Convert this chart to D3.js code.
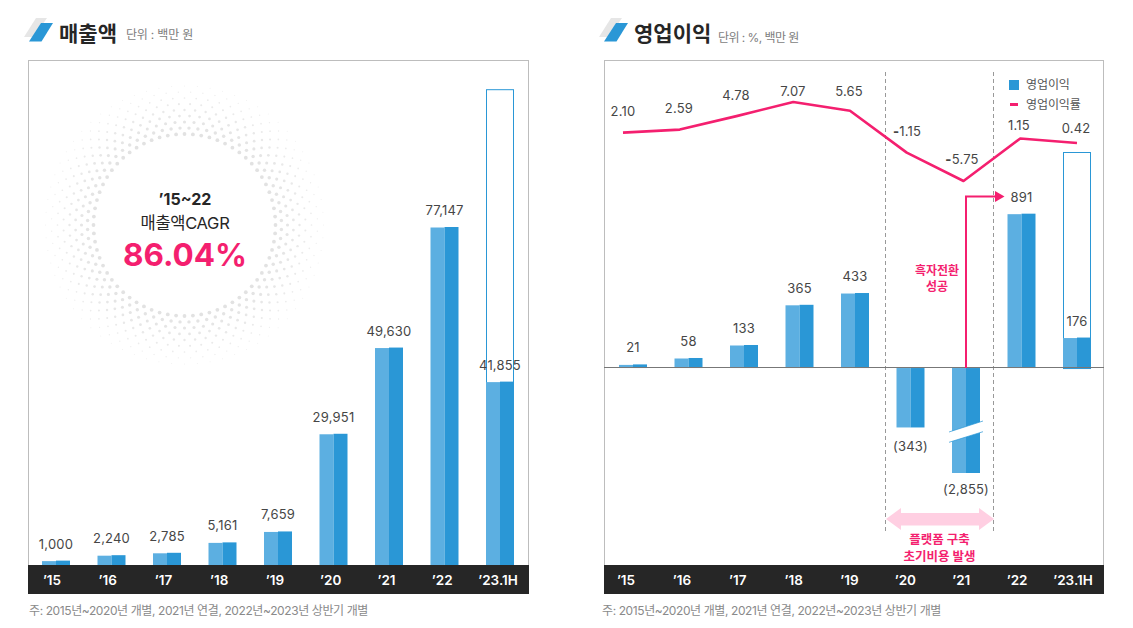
<!DOCTYPE html>
<html><head><meta charset="utf-8">
<script src="https://cdnjs.cloudflare.com/ajax/libs/d3/7.8.5/d3.min.js"></script>
<style>
html,body{margin:0;padding:0;background:#fff;overflow:hidden}
text{font-family:Inter,"Noto Sans CJK KR",sans-serif}
</style></head><body>
<svg id="c" width="1133" height="628"></svg>
<script>
const years=["’15","’16","’17","’18","’19","’20","’21","’22","’23.1H"];
const revenue=[1000,2240,2785,5161,7659,29951,49630,77147,41855];
const revenueLabels=["1,000","2,240","2,785","5,161","7,659","29,951","49,630","77,147","41,855"];
const revenueTarget=108600;
const profit=[21,58,133,365,433,-343,-2855,891,176];
const profitLabels=["21","58","133","365","433","(343)","(2,855)","891","176"];
const profitTarget=1247;
const margin=[2.10,2.59,4.78,7.07,5.65,-1.15,-5.75,1.15,0.42];
const marginLabels=["2.10","2.59","4.78","7.07","5.65","-1.15","-5.75","1.15","0.42"];

const svg=d3.select("#c");
const BLUE="#2a97d6",LIGHT="#5cafe1",PINK="#f41f6f",DARK="#262626",TXT="#464646";
const barW=28;

function header(x,title,tx,unit,ux,uy,ls){
  const g=svg.append("g");
  g.append("path").attr("d",`M${x+1} 37L${x+13} 18H${x+24}L${x+11} 37Z`).attr("fill","#e6e6e6");
  g.append("path").attr("d",`M${x+6} 41.5L${x+18} 23H${x+30}L${x+18.5} 41.5Z`).attr("fill",BLUE);
  g.append("text").attr("x",tx).attr("y",41).attr("font-size",21).attr("font-weight",700).attr("fill",DARK).text(title);
  g.append("text").attr("x",ux).attr("y",uy).attr("font-size",12).attr("letter-spacing",ls).attr("fill","#7d7d7d").text(unit);
}
function frame(x0,x1,xs,labels){
  svg.append("rect").attr("x",x0+.5).attr("y",60.5).attr("width",x1-x0-1).attr("height",505).attr("fill","none").attr("stroke","#bdbdbd");
  svg.append("rect").attr("x",x0).attr("y",565).attr("width",x1-x0).attr("height",29).attr("fill",DARK);
  labels.forEach((d,i)=>svg.append("text").attr("x",xs(i)).attr("y",585).attr("text-anchor","middle")
    .attr("font-size",13.5).attr("font-weight",600).attr("fill","#fff").text(d));
}
function bar(g,cx,y0,y1){
  const top=Math.min(y0,y1),h=Math.abs(y1-y0),o=y1<y0?.5:0;
  g.append("rect").attr("x",cx-barW/2).attr("y",top+o).attr("width",barW/2).attr("height",h-o).attr("fill",LIGHT);
  g.append("rect").attr("x",cx).attr("y",top).attr("width",barW/2).attr("height",h).attr("fill",BLUE);
}
function note(x){
  svg.append("text").attr("x",x).attr("y",615).attr("font-size",12).attr("letter-spacing",-0.4).attr("fill","#8a8a8a")
   .text("주: 2015년~2020년 개별, 2021년 연결, 2022년~2023년 상반기 개별");
}
/* ---------- left panel ---------- */
header(23,"매출액",59,"단위 : 백만 원",126,39,-0.2);
const halo=svg.append("g");
const hx=184.5,hy=225;
const rings=d3.range(0,9),N=68;
rings.forEach(k=>{
  const r=91+k*6,t=k/8;
  d3.range(N).forEach(i=>{
    const a=(i+(k%2?.5:0))/N*2*Math.PI;
    halo.append("circle").attr("cx",hx+r*Math.cos(a)).attr("cy",hy+r*Math.sin(a))
      .attr("r",1.9-1.4*t).attr("fill",d3.interpolateRgb("#e2e2e2","#efefef")(t));
  });
});
frame(28,529,d3.scaleLinear().domain([0,8]).range([52,498]),years);
const xL=d3.scaleLinear().domain([0,8]).range([56,500]);
const yL=d3.scaleLinear().domain([0,77147]).range([565,227]);
svg.append("rect").attr("x",xL(8)-13.5).attr("y",yL(revenueTarget)+.5).attr("width",27).attr("height",yL(0)-yL(revenueTarget)-1)
  .attr("fill","none").attr("stroke",BLUE);
const gL=svg.append("g");
revenue.forEach((v,i)=>bar(gL,xL(i),yL(0),yL(v)));
revenueLabels.forEach((d,i)=>svg.append("text").attr("x",xL(i)).attr("y",yL(revenue[i])-12).attr("text-anchor","middle")
  .attr("font-size",13).attr("letter-spacing",.2).attr("fill",TXT).text(d));
svg.append("text").attr("x",185).attr("y",205).attr("text-anchor","middle").attr("font-size",16).attr("font-weight",700).attr("fill",DARK).text("’15~22");
svg.append("text").attr("x",185).attr("y",229).attr("text-anchor","middle").attr("font-size",16.5).attr("fill",DARK).attr("letter-spacing",-.3).text("매출액CAGR");
svg.append("text").attr("x",185).attr("y",266).attr("text-anchor","middle").attr("font-size",31.5).attr("font-weight",700).attr("fill",PINK).text("86.04%");
note(29);

/* ---------- right panel ---------- */
header(598,"영업이익",634,"단위 : %, 백만 원",718,42,-0.55);
frame(604,1104,d3.scaleLinear().domain([0,8]).range([626,1073]),years);
const xB=d3.scaleLinear().domain([0,8]).range([633,1077]);
const xM=d3.scaleLinear().domain([0,8]).range([623,1077]);
const yM=d3.scaleLinear().domain([-5.75,7.07]).range([181,102]);
const yB=d3.scaleLinear().domain([-2855,-450,1247]).range([473,446,152]);
[886,994].forEach(x=>svg.append("line").attr("x1",x-.5).attr("x2",x-.5).attr("y1",72).attr("y2",533)
  .attr("stroke","#999").attr("stroke-dasharray","4 3"));
svg.append("rect").attr("x",xB(8)-13.5).attr("y",yB(profitTarget)+.5).attr("width",27).attr("height",yB(0)-yB(profitTarget))
  .attr("fill","#fff").attr("stroke",BLUE);
const gR=svg.append("g");
profit.forEach((v,i)=>bar(gR,xB(i),yB(0),yB(v)));
const bx=xB(6);
svg.append("path").attr("d",`M${bx-17} 432L${bx+17} 421V431.7L${bx-17} 442.3Z`).attr("fill","#fff");
[[432,421],[442.3,431.7]].forEach(([a,b])=>svg.append("line").attr("x1",bx-17).attr("x2",bx+17).attr("y1",a).attr("y2",b)
  .attr("stroke",BLUE).attr("stroke-width",.7));
svg.append("line").attr("x1",604).attr("x2",1104).attr("y1",367.5).attr("y2",367.5).attr("stroke","#777");
const profitLabelOffset=[-12,-12,-12,-12,-12,24,21,-12,-12];
profitLabels.forEach((d,i)=>{
  svg.append("text").attr("x",xB(i)).attr("y",yB(profit[i])+profitLabelOffset[i]).attr("text-anchor","middle").attr("font-size",13).attr("letter-spacing",.2).attr("fill",TXT).text(d);
});
/* turnaround arrow */
svg.append("path").attr("d",`M966 368V196.5H996`).attr("fill","none").attr("stroke",PINK).attr("stroke-width",2);
svg.append("path").attr("d","M995 191L1004.5 196.5L995 202Z").attr("fill",PINK);
[["흑자전환",275],["성공",291]].forEach(([t,y])=>svg.append("text").attr("x",937).attr("y",y).attr("text-anchor","middle")
  .attr("font-size",12).attr("font-weight",700).attr("fill",PINK).text(t));
/* platform arrow */
svg.append("path").attr("d","M886 519L901 508V513H979V508L994 519L979 530V525.5H901V530Z").attr("fill","#ffcfe2");
[["플랫폼 구축",544],["초기비용 발생",561]].forEach(([t,y])=>svg.append("text").attr("x",939.5).attr("y",y).attr("text-anchor","middle")
  .attr("font-size",12.5).attr("font-weight",700).attr("fill",PINK).text(t));
/* margin line */
svg.append("path").datum(margin).attr("fill","none").attr("stroke",PINK).attr("stroke-width",2.6).attr("stroke-linejoin","round")
  .attr("d",d3.line().x((d,i)=>xM(i)).y(d=>yM(d)));
const mx=[623,679,736,793,849,907,962,1019,1076],my=[116,113,100,96,96,136,164,130,133];
marginLabels.forEach((d,i)=>{
  const t=svg.append("text").attr("x",mx[i]).attr("y",my[i]).attr("text-anchor","middle").attr("font-size",13).attr("letter-spacing",.2).attr("fill",TXT);
  if(d[0]==="-"){t.append("tspan").attr("font-weight",800).text("-");t.append("tspan").text(d.slice(1));}
  else t.text(d);
});
/* legend */
svg.append("rect").attr("x",1009).attr("y",80).attr("width",10).attr("height",10).attr("fill",BLUE);
svg.append("rect").attr("x",1010).attr("y",103).attr("width",8).attr("height",3).attr("fill",PINK);
svg.append("text").attr("x",1026).attr("y",89).attr("font-size",12).attr("fill","#555").attr("letter-spacing",-.1).text("영업이익");
svg.append("text").attr("x",1026).attr("y",109).attr("font-size",12).attr("fill","#555").attr("letter-spacing",-.1).text("영업이익률");
note(602);
</script></body></html>
